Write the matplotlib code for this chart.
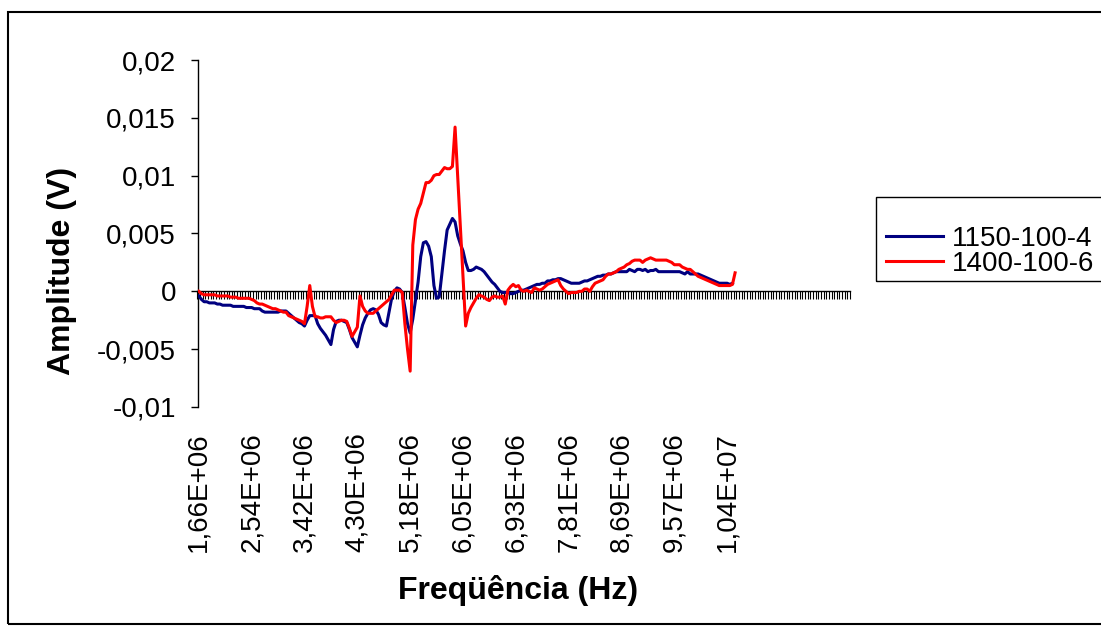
import matplotlib
matplotlib.use("Agg")
import matplotlib.pyplot as plt
import matplotlib.patches as mpatches
import numpy as np

plt.rcParams['font.family'] = ['Liberation Sans', 'DejaVu Sans']

# ---------------- data ----------------
# category axis: frequencies (Hz)
freq_start = 1.662e6
freq_step = 43925.0
n_categories = 247
categories = [freq_start + i * freq_step for i in range(n_categories)]

label_every = 20
tick_labels = ["1,66E+06", "2,54E+06", "3,42E+06", "4,30E+06", "5,18E+06",
               "6,05E+06", "6,93E+06", "7,81E+06", "8,69E+06", "9,57E+06",
               "1,04E+07", "", "", ""]

# amplitudes in units of 1e-4 V
amp_1150_100_4 = [
    -4, -7, -9, -9, -10, -10, -10, -11, -11, -12,
    -12, -12, -12, -13, -13, -13, -13, -13, -14, -14,
    -14, -15, -15, -15, -17, -18, -18, -18, -18, -18,
    -18, -17, -17, -17, -19, -21, -23, -25, -27, -28,
    -30, -25, -21, -21, -21, -28, -32, -35, -38, -42,
    -46, -33, -26, -25, -25, -26, -27, -33, -40, -44,
    -48, -38, -29, -23, -19, -16, -15, -16, -20, -27,
    -29, -30, -18, -6, 0, 3, 2, -1, -14, -28,
    -36, -24, -8, 8, 30, 42, 43, 39, 30, 5,
    -6, -5, 15, 35, 53, 58, 63, 60, 48, 41,
    35, 25, 18, 18, 19, 21, 20, 19, 17, 14,
    11, 8, 6, 3, 0, -1, -1, -1, -2, -2,
    -1, 0, 1, 1, 2, 3, 4, 5, 6, 6,
    7, 7, 9, 9, 10, 10, 11, 11, 10, 9,
    8, 7, 7, 7, 7, 8, 9, 9, 10, 11,
    12, 13, 13, 14, 14, 15, 15, 16, 17, 17,
    17, 17, 17, 19, 18, 17, 19, 19, 18, 19,
    17, 18, 18, 19, 17, 17, 17, 17, 17, 17,
    17, 17, 17, 16, 15, 17, 15, 15, 15, 15,
    14, 13, 12, 11, 10, 9, 8, 7, 7, 7,
    7, 6, 7,
]

amp_1400_100_6 = [
    0, -2, -3, -3, -3, -3, -3, -4, -4, -4,
    -4, -4, -5, -5, -5, -6, -6, -6, -6, -6,
    -7, -8, -10, -11, -11, -12, -13, -14, -15, -15,
    -16, -17, -18, -18, -21, -22, -23, -24, -25, -26,
    -28, -13, 5, -13, -22, -22, -23, -23, -22, -22,
    -22, -25, -27, -26, -25, -25, -26, -32, -39, -35,
    -31, -4, -13, -17, -19, -19, -19, -17, -15, -13,
    -11, -9, -7, -3, 1, 1, 1, -1, -28, -50,
    -69, 40, 62, 71, 76, 85, 94, 94, 96, 100,
    101, 101, 104, 107, 106, 106, 108, 142, 99, 56,
    13, -30, -19, -14, -10, -6, -3, -4, -5, -7,
    -8, -5, -4, -5, -5, -4, -11, 1, 4, 6,
    4, 5, 1, 0, 1, 0, -1, 3, 2, 1,
    2, 4, 6, 7, 8, 9, 10, 5, 2, 0,
    -2, -1, -1, -1, 0, 0, 2, 2, 0, 4,
    7, 8, 9, 10, 13, 15, 15, 16, 17, 19,
    20, 21, 23, 24, 26, 27, 27, 27, 25, 27,
    28, 29, 28, 27, 27, 27, 27, 27, 26, 25,
    23, 23, 23, 21, 20, 19, 19, 17, 15, 13,
    12, 11, 10, 9, 8, 7, 6, 5, 5, 5,
    5, 5, 6, 16,
]

series_names = ["1150-100-4", "1400-100-6"]
series_colors = ["#000080", "#FF0000"]

y_ticks = [-0.01, -0.005, 0.0, 0.005, 0.01, 0.015, 0.02]
y_tick_labels = ["-0,01", "-0,005", "0", "0,005", "0,01", "0,015", "0,02"]

# ---------------- figure ----------------
W, H = 1101, 634
fig = plt.figure(figsize=(W / 100, H / 100), dpi=100)
fig.patch.set_facecolor("white")

ax_left, ax_right, ax_top, ax_bottom = 197.5, 850, 60, 407
ax = fig.add_axes([ax_left / W, 1 - ax_bottom / H,
                   (ax_right - ax_left) / W, (ax_bottom - ax_top) / H])

idx_all = np.arange(n_categories)
s1 = np.array(amp_1150_100_4) * 1e-4
s2 = np.array(amp_1400_100_6) * 1e-4
lines = []
for vals, name, col in [(s1, series_names[0], series_colors[0]),
                        (s2, series_names[1], series_colors[1])]:
    ln, = ax.plot(idx_all[:len(vals)], vals, color=col, lw=2.2,
                  solid_joinstyle='round', label=name, zorder=3)
    lines.append(ln)

ax.set_xlim(-0.5, n_categories - 0.5)
ax.set_ylim(-0.01, 0.02)

for sp in ["top", "right", "bottom"]:
    ax.spines[sp].set_visible(False)
ax.spines["left"].set_linewidth(1.0)
ax.spines["left"].set_color("black")

ax.set_yticks(y_ticks)
ax.set_yticklabels(y_tick_labels)
ax.tick_params(axis="y", direction="out", length=5, width=1.0,
               labelsize=20, pad=10.5, colors="black")

# category labels (every 20 categories) at bottom of plot area
lab_pos = list(range(0, n_categories, label_every))
ax.set_xticks(lab_pos)
ax.set_xticklabels(tick_labels[:len(lab_pos)], rotation=90)
ax.tick_params(axis="x", length=0, labelsize=20, pad=18)

# category axis line crossing at y = 0 with a tick between every category
zero_frac = (0 - (-0.01)) / 0.03
sec = ax.secondary_xaxis(zero_frac)
sec.set_xticks(np.arange(n_categories + 1) - 0.5)
sec.tick_params(axis="x", direction="out", length=6, width=0.8,
                labelbottom=False, labeltop=False, colors="black")
sec.spines["bottom"].set_linewidth(1.0)
sec.spines["bottom"].set_color("black")

# axis titles
fig.text(62 / W, 1 - 271 / H, "Amplitude (V)", rotation=90, ha="center",
         va="center", fontsize=23, fontweight="bold")
fig.text(518 / W, 1 - 590 / H, "Freqüência (Hz)", ha="center", va="center",
         fontsize=23, fontweight="bold")

# legend (entries) + its frame
leg = fig.legend(handles=lines, labels=series_names, loc="upper left",
                 bbox_to_anchor=(886 / W, 1 - 226 / H), frameon=False,
                 borderaxespad=0, borderpad=0, handlelength=2.05,
                 handletextpad=0.31, labelspacing=-0.05, fontsize=20)
leg_frame = mpatches.Rectangle((876 / W, 1 - 281 / H), 1.0, (281 - 197) / H,
                               transform=fig.transFigure, fill=False,
                               edgecolor="black", linewidth=1.0,
                               clip_on=False)
fig.patches.append(leg_frame)

# outer chart border
border = mpatches.Rectangle((8 / W, 1 - 624 / H), 1.2, (624 - 12) / H,
                            transform=fig.transFigure, fill=False,
                            edgecolor="black", linewidth=1.5, clip_on=False)
fig.patches.append(border)

fig.savefig("out.png", dpi=100)
